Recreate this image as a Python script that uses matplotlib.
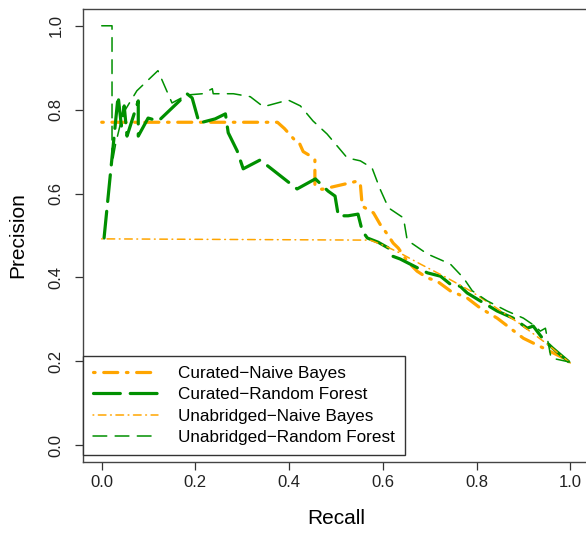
import numpy as np
import matplotlib.pyplot as plt

plt.rcParams['font.family'] = ['Liberation Sans', 'DejaVu Sans']

# --- data ---
cur_nb_recall = [0.0, 0.375, 0.39, 0.41, 0.42, 0.43, 0.445, 0.455, 0.455, 0.47, 0.547,
                 0.552, 0.556, 0.580, 0.594, 0.609, 0.622, 0.633, 0.652, 0.673, 0.695,
                 0.716, 0.744, 0.780, 0.808, 0.844, 0.872, 0.900, 0.942, 1.0]
cur_nb_prec = [0.77, 0.77, 0.755, 0.73, 0.725, 0.70, 0.69, 0.68, 0.62, 0.61, 0.63,
               0.623, 0.570, 0.554, 0.527, 0.504, 0.482, 0.470, 0.439, 0.415, 0.399,
               0.391, 0.368, 0.351, 0.327, 0.303, 0.279, 0.255, 0.232, 0.200]

cur_rf_recall = [0.005, 0.035, 0.042, 0.048, 0.054, 0.078, 0.078, 0.099, 0.121, 0.182,
                 0.193, 0.208, 0.242, 0.264, 0.270, 0.289, 0.302, 0.338, 0.360, 0.417,
                 0.456, 0.483, 0.498, 0.505, 0.526, 0.547, 0.556, 0.567, 0.590, 0.612,
                 0.620, 0.637, 0.658, 0.695, 0.723, 0.744, 0.765, 0.780, 0.808, 0.844,
                 0.878, 0.908, 0.921, 0.942, 0.962, 1.0]
cur_rf_prec = [0.494, 0.833, 0.761, 0.809, 0.737, 0.821, 0.737, 0.780, 0.773, 0.838,
               0.828, 0.768, 0.778, 0.790, 0.745, 0.702, 0.659, 0.680, 0.661, 0.611,
               0.635, 0.606, 0.594, 0.547, 0.547, 0.551, 0.511, 0.494, 0.484, 0.470,
               0.451, 0.444, 0.432, 0.411, 0.403, 0.384, 0.379, 0.363, 0.344, 0.320,
               0.303, 0.279, 0.284, 0.253, 0.232, 0.196]

una_nb_recall = [0.0, 0.573, 0.605, 0.637, 0.680, 0.737, 0.787, 0.836, 0.893, 0.951, 1.0]
una_nb_prec = [0.492, 0.489, 0.475, 0.458, 0.432, 0.399, 0.368, 0.332, 0.289, 0.241, 0.196]

una_rf_recall = [0.0, 0.022, 0.022, 0.03, 0.045, 0.075, 0.12, 0.15, 0.182, 0.215, 0.236,
                 0.238, 0.281, 0.317, 0.345, 0.398, 0.424, 0.451, 0.481, 0.524, 0.552,
                 0.577, 0.594, 0.612, 0.644, 0.652, 0.695, 0.744, 0.772, 0.791, 0.823,
                 0.865, 0.900, 0.925, 0.936, 0.947, 0.959, 1.0]
una_rf_prec = [1.0, 1.0, 0.67, 0.72, 0.79, 0.845, 0.893, 0.816, 0.835, 0.838, 0.85,
               0.838, 0.838, 0.831, 0.807, 0.823, 0.809, 0.773, 0.742, 0.685, 0.678,
               0.661, 0.611, 0.566, 0.542, 0.489, 0.456, 0.432, 0.399, 0.368, 0.344,
               0.320, 0.303, 0.284, 0.272, 0.279, 0.208, 0.198]

orange = '#FFA500'
green = '#009000'

fig = plt.figure(figsize=(5.86, 5.33), dpi=100)
ax = fig.add_axes([0.1416, 0.1332, 0.8635, 0.8499])

ax.plot(cur_nb_recall, cur_nb_prec, color=orange, lw=2.3, dashes=(0.5, 2.7, 4.4, 2.7),
        dash_capstyle='round', label='Curated\u2212Naive Bayes')
ax.plot(cur_rf_recall, cur_rf_prec, color=green, lw=2.3, dashes=(8.4, 3.1),
        dash_capstyle='round', label='Curated\u2212Random Forest')
ax.plot(una_nb_recall, una_nb_prec, color=orange, lw=1.1, dashes=(0.5, 3.0, 5.0, 3.0),
        dash_capstyle='round', label='Unabridged\u2212Naive Bayes')
ax.plot(una_rf_recall, una_rf_prec, color=green, lw=1.1, dashes=(9.0, 5.5),
        dash_capstyle='round', label='Unabridged\u2212Random Forest')

ax.set_xlim(-0.04, 1.04)
ax.set_ylim(-0.04, 1.04)
ax.set_xticks(np.arange(0, 1.01, 0.2))
ax.set_yticks(np.arange(0, 1.01, 0.2))
ax.xaxis.set_major_formatter(plt.FormatStrFormatter('%.1f'))
ax.yaxis.set_major_formatter(plt.FormatStrFormatter('%.1f'))
ax.tick_params(axis='both', direction='out', length=6, width=0.9, color='#333333',
               labelsize=12, labelcolor='#222222')
ax.tick_params(axis='x', pad=3)
ax.tick_params(axis='y', pad=8)
for lab in ax.get_yticklabels():
    lab.set_rotation(90)
    lab.set_va('center')

for s in ax.spines.values():
    s.set_color('#444444')
    s.set_linewidth(1.0)

ax.set_xlabel('Recall', fontsize=15)
ax.set_ylabel('Precision', fontsize=15)
ax.xaxis.set_label_coords(0.5, -0.103)
ax.yaxis.set_label_coords(-0.11, 0.5)

leg = ax.legend(loc='lower left', bbox_to_anchor=(0.0, 0.0155), borderaxespad=0,
                fontsize=12.3, handlelength=3.8, handletextpad=1.15, labelspacing=0.36,
                borderpad=0.6, fancybox=False, framealpha=1, edgecolor='#333333')
leg.get_frame().set_linewidth(1.0)

plt.savefig('out.png', dpi=100)
